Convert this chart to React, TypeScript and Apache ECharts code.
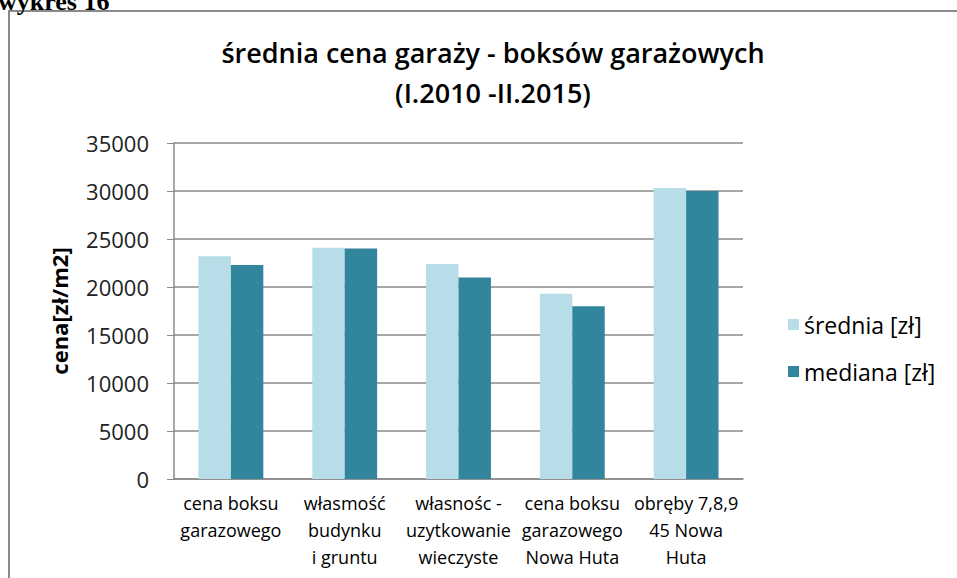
import React, { useEffect, useRef } from "react";
import * as echarts from "echarts";

const categories = [
  "cena boksu\ngarazowego",
  "własmość\nbudynku\ni gruntu",
  "własnośc -\nuzytkowanie\nwieczyste",
  "cena boksu\ngarazowego\nNowa Huta",
  "obręby 7,8,9\n45 Nowa\nHuta",
];
const srednia = [23200, 24100, 22400, 19300, 30300];
const mediana = [22300, 24000, 21000, 18000, 30000];
const seriesNames = ["średnia [zł]", "mediana [zł]"];
const titleText = "średnia cena garaży - boksów garażowych\n(I.2010 -II.2015)";
const yName = "cena[zł/m2]";
const captionText = "wykres 16";

const FONT = "'Open Sans', sans-serif";

export default function App() {
  const ref = useRef<HTMLDivElement>(null);
  useEffect(() => {
    if (!ref.current) return;
    const chart = echarts.init(ref.current, null, { renderer: "svg" });
    chart.setOption({
      animation: false,
      backgroundColor: "#ffffff",
      textStyle: { fontFamily: FONT },
      title: {
        text: titleText,
        left: 488,
        top: 27,
        textAlign: "center",
        textStyle: {
          fontFamily: FONT,
          fontSize: 27,
          fontWeight: 600,
          color: "#000",
          lineHeight: 40,
        },
      },
      graphic: [
        {
          type: "rect",
          shape: { x: 9, y: 11, width: 1000, height: 700 },
          style: { fill: "none", stroke: "#8a8a8a", lineWidth: 2 },
          silent: true,
        },
        {
          type: "text",
          left: -2,
          top: -12,
          style: {
            text: captionText,
            font: "bold 26px 'Liberation Serif', serif",
            fill: "#000",
          },
        },
      ],
      legend: {
        orient: "vertical",
        left: 783,
        top: 308,
        itemWidth: 11,
        itemHeight: 11,
        itemGap: 24,
        icon: "rect",
        textStyle: { fontFamily: FONT, fontSize: 23, color: "#000" },
        data: seriesNames,
      },
      grid: { left: 174, top: 143, width: 569, height: 336 },
      xAxis: {
        type: "category",
        data: categories,
        axisLine: { lineStyle: { color: "#8a8a8a", width: 1.5 } },
        axisTick: { show: false },
        axisLabel: {
          interval: 0,
          fontFamily: FONT,
          fontSize: 18,
          color: "#000",
          lineHeight: 27,
          margin: 10,
        },
      },
      yAxis: {
        type: "value",
        min: 0,
        max: 35000,
        interval: 5000,
        name: yName,
        nameLocation: "middle",
        nameRotate: 90,
        nameGap: 104,
        nameTextStyle: { fontFamily: FONT, fontSize: 22, fontWeight: "bold", color: "#000" },
        axisLine: { show: true, lineStyle: { color: "#8a8a8a", width: 1.5 } },
        axisTick: { show: true, length: 7, lineStyle: { color: "#8a8a8a" } },
        axisLabel: {
          fontFamily: FONT,
          fontSize: 22,
          color: "#222",
          margin: 25,
          formatter: (v: number) => String(v),
        },
        splitLine: { lineStyle: { color: "#8a8a8a", width: 1.5 } },
      },
      series: [
        {
          name: seriesNames[0],
          type: "bar",
          data: srednia,
          barGap: "0%",
          barCategoryGap: "43%",
          itemStyle: { color: "#b7dde8" },
        },
        {
          name: seriesNames[1],
          type: "bar",
          data: mediana,
          itemStyle: { color: "#31859c" },
        },
      ],
    });
    return () => chart.dispose();
  }, []);
  return (
    <div
      ref={ref}
      style={{ position: "absolute", left: 0, top: 0, width: 957, height: 578 }}
    />
  );
}
